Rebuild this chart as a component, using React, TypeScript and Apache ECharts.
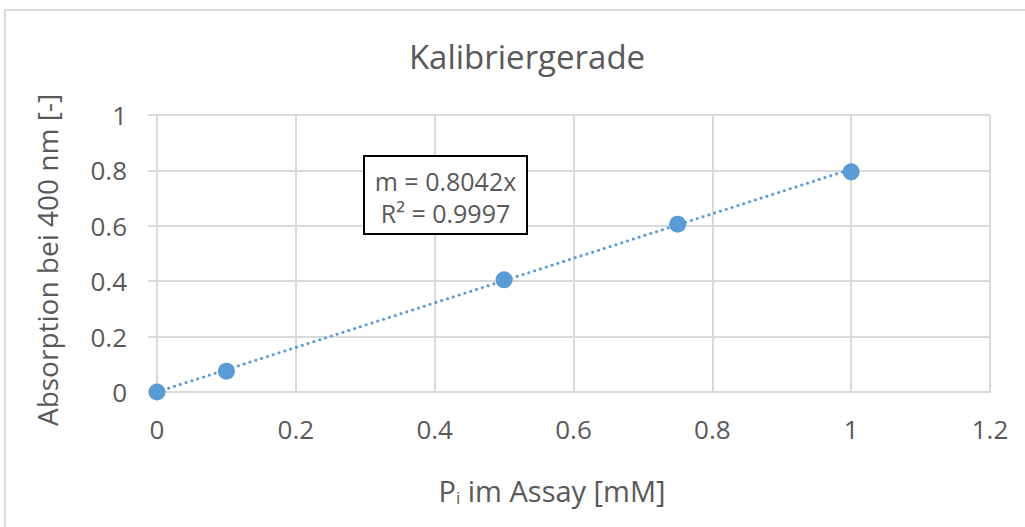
import React, { useEffect, useRef } from "react";
import * as echarts from "echarts";

const concentrations = [0, 0.1, 0.5, 0.75, 1];
const absorptions = [0, 0.075, 0.405, 0.606, 0.795];
const slope = 0.8042;
const rSquared = 0.9997;
const trendX = [0, 1];
const chartTitle = "Kalibriergerade";
const yAxisTitle = "Absorption bei 400 nm [-]";

const FONT = "'Open Sans', sans-serif";
const TEXT = "#595959";
const GRID = "#d9d9d9";
const BLUE = "#5b9bd5";

export default function App() {
  const ref = useRef<HTMLDivElement>(null);
  useEffect(() => {
    if (!ref.current) return;
    const chart = echarts.init(ref.current, null, { renderer: "svg" });
    chart.setOption({
      animation: false,
      backgroundColor: "#fff",
      textStyle: { fontFamily: FONT },
      title: {
        text: chartTitle,
        left: 522,
        top: 35,
        textAlign: "center",
        textStyle: { fontSize: 33, fontWeight: "normal", color: TEXT, fontFamily: FONT },
      },
      grid: { left: 157, right: 35, top: 115, bottom: 135 },
      xAxis: {
        type: "value",
        min: 0,
        max: 1.2,
        interval: 0.2,
        axisLine: { show: true, onZero: false, lineStyle: { color: GRID, width: 2 } },
        axisTick: { show: false },
        splitLine: { show: true, lineStyle: { color: GRID, width: 2 } },
        axisLabel: { color: TEXT, fontSize: 26, margin: 24, fontFamily: FONT },
      },
      yAxis: {
        type: "value",
        min: 0,
        max: 1,
        interval: 0.2,
        axisLine: { show: true, lineStyle: { color: GRID, width: 2 } },
        axisTick: { show: true, length: 9, lineStyle: { color: GRID, width: 2 } },
        splitLine: { show: true, lineStyle: { color: GRID, width: 2 } },
        axisLabel: { color: TEXT, fontSize: 26, margin: 30, fontFamily: FONT },
      },
      series: [
        {
          type: "line",
          data: trendX.map((x) => [x, slope * x]),
          symbol: "none",
          lineStyle: { color: BLUE, width: 3, type: [0.1, 6], cap: "round" },
          silent: true,
          z: 1,
        },
        {
          type: "scatter",
          data: concentrations.map((c, i) => [c, absorptions[i]]),
          symbol: "circle",
          symbolSize: 17,
          itemStyle: { color: BLUE, opacity: 1 },
          z: 2,
        },
      ],
      graphic: [
        {
          type: "polyline",
          shape: { points: [[5, 527], [5, 10], [1025, 10]] },
          style: { stroke: "#d9d9d9", lineWidth: 2, fill: "none" },
          silent: true,
        },
        {
          type: "group",
          left: 363,
          top: 155,
          z: 100,
          children: [
            {
              type: "rect",
              z: 100,
              shape: { x: 0, y: 0, width: 163, height: 78 },
              style: { fill: "#fff", stroke: "#000", lineWidth: 2 },
            },
            {
              type: "text",
              z: 101,
              x: 81.5,
              y: 25,
              style: {
                text: `m = ${slope.toFixed(4)}x`,
                fill: TEXT,
                fontSize: 25,
                fontFamily: FONT,
                align: "center",
                verticalAlign: "middle",
              },
            },
            {
              type: "text",
              z: 101,
              x: 81.5,
              y: 57,
              style: {
                text: `R² = ${rSquared.toFixed(4)}`,
                fill: TEXT,
                fontSize: 25,
                fontFamily: FONT,
                align: "center",
                verticalAlign: "middle",
              },
            },
          ],
        },
        {
          type: "text",
          x: 552,
          y: 490,
          style: {
            text: "P{sub|i} im Assay [mM]",
            rich: {
              sub: { fontSize: 17, fill: TEXT, fontFamily: FONT, verticalAlign: "bottom", padding: [14, 0, 0, 0] },
            },
            fill: TEXT,
            fontSize: 29,
            fontFamily: FONT,
            align: "center",
            verticalAlign: "middle",
          },
        },
        {
          type: "text",
          x: 47,
          y: 260,
          rotation: Math.PI / 2,
          style: {
            text: yAxisTitle,
            fill: TEXT,
            fontSize: 28,
            fontFamily: FONT,
            align: "center",
            verticalAlign: "middle",
          },
        },
      ],
    });
    return () => chart.dispose();
  }, []);
  return <div ref={ref} style={{ width: 1025, height: 527, position: "absolute", left: 0, top: 0 }} />;
}
